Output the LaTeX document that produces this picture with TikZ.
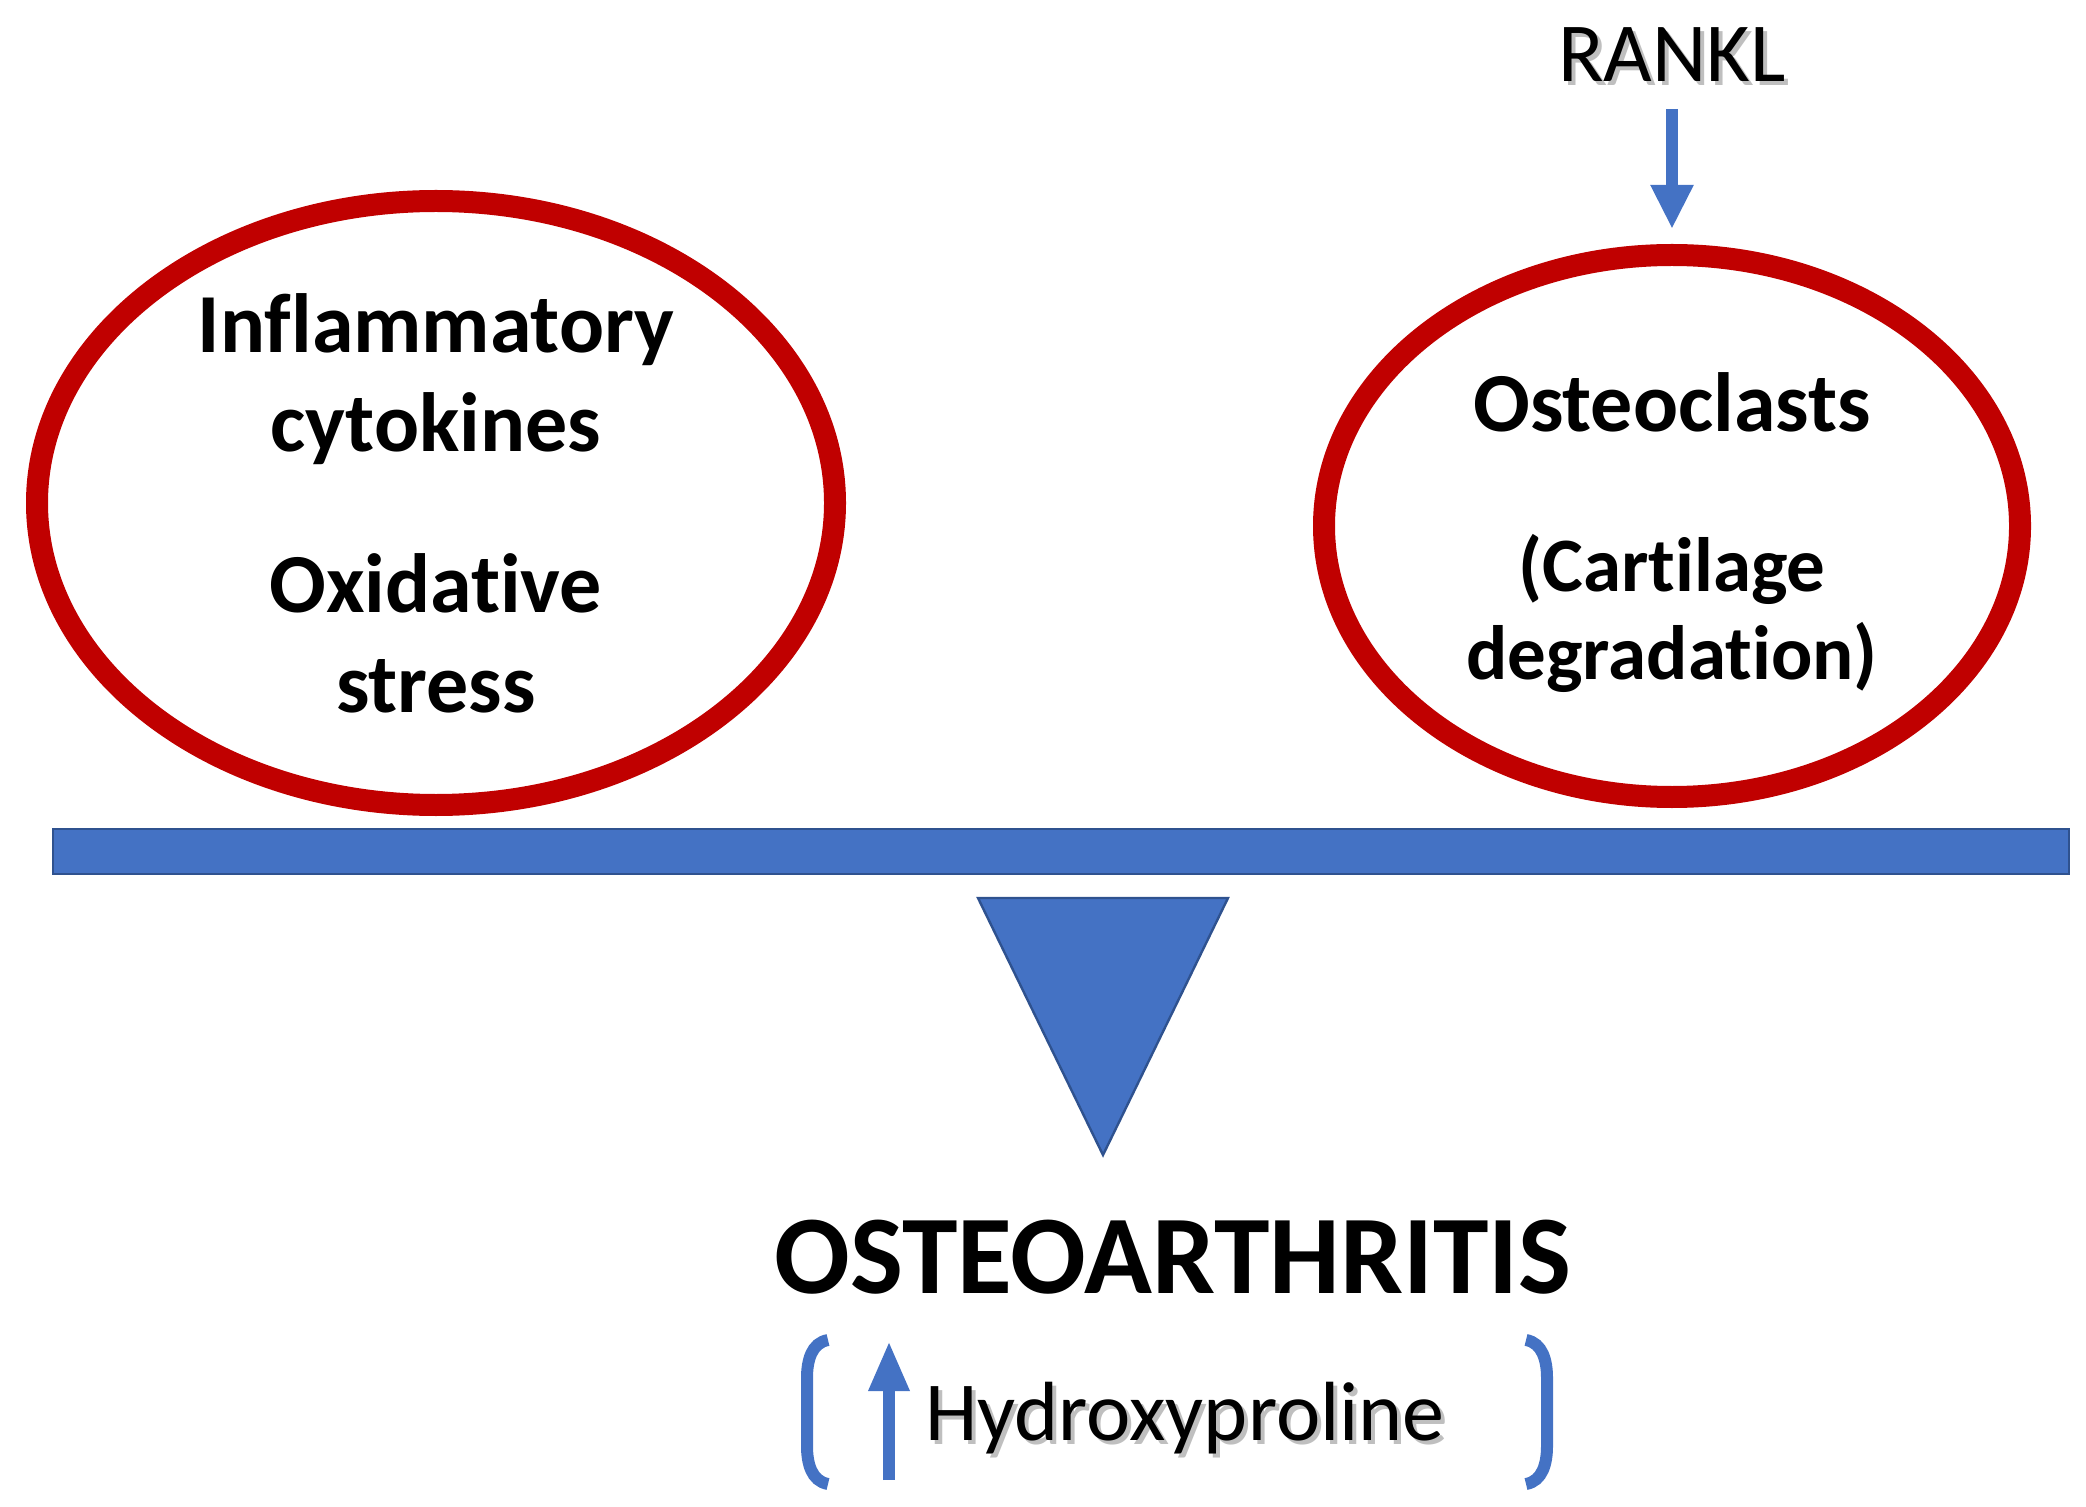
\documentclass[tikz,border=0pt]{standalone}
\usepackage{fontspec}
\setmainfont[Ligatures={NoCommon}]{Carlito}
\usetikzlibrary{shapes.geometric,arrows.meta}
\definecolor{ored}{HTML}{C00000}
\definecolor{oblue}{HTML}{4472C4}
\definecolor{onavy}{HTML}{2F528F}
\tikzset{
  ring/.style={ellipse, draw=ored, line width=11pt, inner sep=0pt},
  boldtxt/.style={font=\bfseries\fontsize{42pt}{48pt}\selectfont, anchor=base, inner sep=0pt},
  smallbold/.style={boldtxt, font=\bfseries\fontsize{38.5pt}{44pt}\selectfont},
  plaintxt/.style={inner sep=0pt, font=\fontsize{42pt}{48pt}\selectfont},
  shadowtxt/.style={plaintxt, text=black!25},
  bluearrow/.style={draw=oblue, line width=6pt, -{Triangle[width=20pt,length=22pt]}},
  bracketline/.style={draw=oblue, line width=6pt},
}
\begin{document}
\begin{tikzpicture}[x=0.5pt,y=-0.5pt]
\useasboundingbox (0,0) rectangle (2086,1507);
% ellipses
\node[ring, minimum width=399pt, minimum height=302pt] (lel) at (436,503) {};
\node[ring, minimum width=348pt, minimum height=271pt] (rel) at (1672,526) {};
% texts in ellipses
\node[boldtxt] (t1) at (436,353) {Inflammatory};
\node[boldtxt] (t2) at (436,452) {cytokines};
\node[boldtxt] (t3) at (436,612) {Oxidative};
\node[boldtxt] (t4) at (436,712) {stress};
\node[boldtxt] (t5) at (1672,432) {Osteoclasts};
\node[smallbold] (t6) at (1672,592) {(Cartilage};
\node[smallbold] (t7) at (1672,679) {degradation)};
% RANKL
\node[shadowtxt, anchor=base] (ranklsh) at (1676,86) {RANKL};
\node[plaintxt, anchor=base] (rankl) at (1672,82) {RANKL};
\coordinate (rk) at (1672,109);
\draw[bluearrow] (rk) -- ([yshift=7.5pt]rel.north);
% bar and fulcrum
\draw[fill=oblue, draw=onavy, line width=1.2pt] (53,829) rectangle (2069,874);
\draw[fill=oblue, draw=onavy, line width=1.2pt, line join=miter] (978,898) -- (1228,898) -- (1103,1155) -- cycle;
% OSTEOARTHRITIS
\node[anchor=base, inner sep=0pt, font=\bfseries\fontsize{56pt}{62pt}\selectfont] (oa) at (1173,1293) {OSTEOARTHRITIS};
% Hydroxyproline
\node[shadowtxt, anchor=base west] (hpsh) at (929,1444) {Hydroxyproline};
\node[plaintxt, anchor=base west] (hp) at (925,1440) {Hydroxyproline};
\coordinate (ua1) at (889,1480);
\coordinate (ua2) at (889,1341);
\draw[draw=oblue, line width=6pt, -{Triangle[width=19pt,length=25pt]}] (ua1) -- (ua2);
% brackets
\draw[bracketline] (828,1340) to[out=190,in=90] (807,1378) -- (807,1446) to[out=-90,in=170] (828,1484);
\draw[bracketline] (1526,1340) to[out=-10,in=90] (1547,1378) -- (1547,1446) to[out=-90,in=10] (1526,1484);
\end{tikzpicture}
\end{document}
